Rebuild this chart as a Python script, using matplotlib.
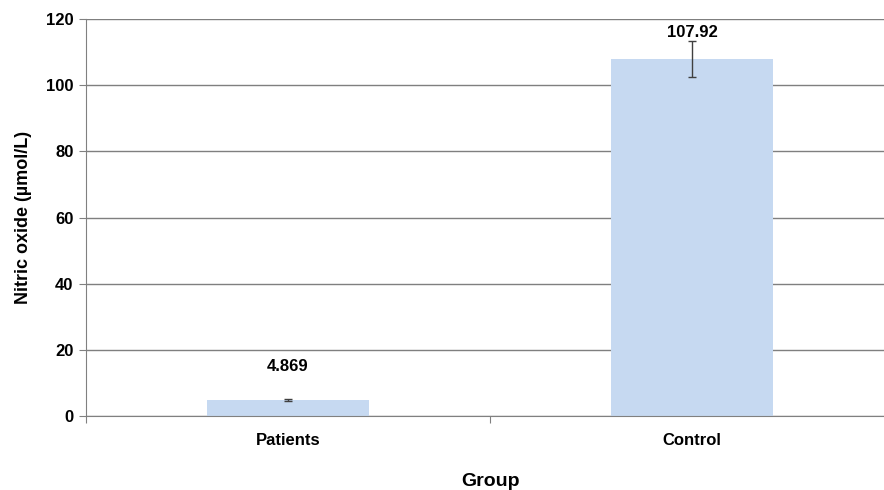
import matplotlib.pyplot as plt

# Nitric oxide levels per group
groups = ["Patients", "Control"]
means = [4.869, 107.92]
errors = [0.4, 5.4]
yticks = [0, 20, 40, 60, 80, 100, 120]

plt.rcParams['font.family'] = ['Liberation Sans', 'DejaVu Sans']
plt.rcParams['font.weight'] = 'bold'

fig = plt.figure(figsize=(8.84, 4.9), dpi=100)
ax = fig.add_axes([86 / 884, 74 / 490, 808 / 884, 397 / 490])

x = [0.5, 1.5]
ax.bar(x, means, width=0.4, color="#c6d9f1", zorder=2)
ax.errorbar(x, means, yerr=errors, fmt="none", ecolor="#404040",
            elinewidth=1, capsize=3, capthick=1, zorder=3)

# value labels above each bar
offsets = [33, 26]
for xi, m, off in zip(x, means, offsets):
    ax.annotate(f"{m}", (xi, m), xytext=(0, off), textcoords="offset pixels",
                ha="center", va="center", fontsize=12, fontweight="bold")

ax.set_xlim(0, 2)
ax.set_ylim(0, 120)
ax.set_yticks(yticks)
ax.set_xticks([0, 1, 2])
ax.set_xticklabels([])
ax.set_xticks(x, minor=True)
ax.set_xticklabels(groups, minor=True)
ax.tick_params(axis="x", which="minor", length=0, pad=12, labelsize=12)
ax.tick_params(axis="x", which="major", length=5, color="#808080")
ax.tick_params(axis="y", length=5, color="#808080", labelsize=12, pad=4)

ax.yaxis.grid(True, color="#7f7f7f", linewidth=1, zorder=0)
ax.set_axisbelow(True)
for s in ["top", "right"]:
    ax.spines[s].set_visible(False)
ax.spines["left"].set_color("#808080")
ax.spines["bottom"].set_color("#808080")

ax.set_ylabel("Nitric oxide (µmol/L)", fontsize=13, fontweight="bold", labelpad=10)
ax.set_xlabel("Group", fontsize=14, fontweight="bold", labelpad=18)

fig.savefig("out.png", dpi=100)
